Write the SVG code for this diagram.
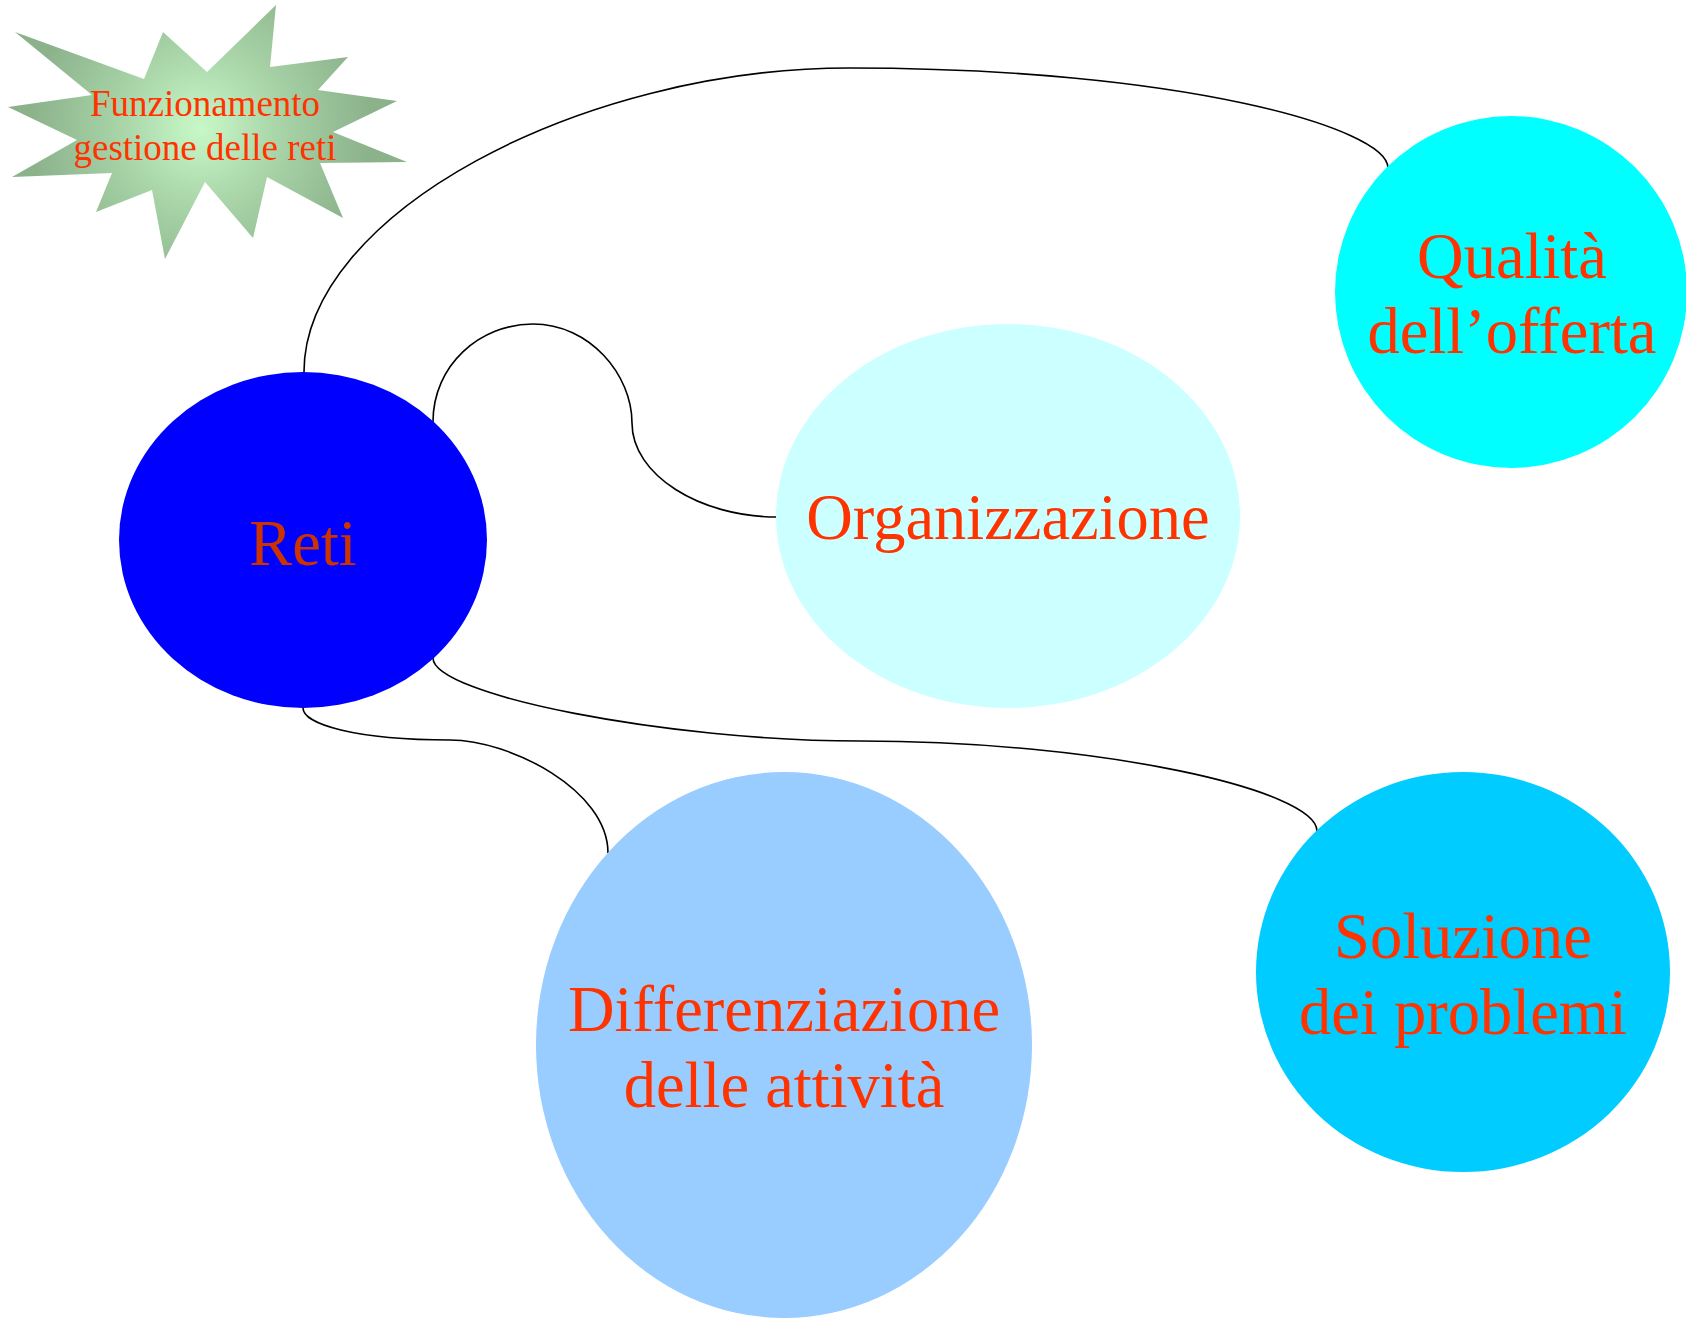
<svg xmlns="http://www.w3.org/2000/svg" width="1686" height="1318" viewBox="0 0 1686 1318">
<style>
.lbl{font-family:"Liberation Serif","Times New Roman",serif;fill:#ff3300;text-anchor:middle}
.big{font-size:64.5px}
.small{font-size:37px}
.conn{fill:none;stroke:#000;stroke-width:1.6}
</style>
<defs>
<radialGradient id="starGrad" gradientUnits="userSpaceOnUse" cx="200" cy="128" r="170">
<stop offset="0" stop-color="#c8f8c8"/>
<stop offset="0.5" stop-color="#a6d2a6"/>
<stop offset="1" stop-color="#8cb28c"/>
</radialGradient>
</defs>
<rect width="1686" height="1318" fill="#fff"/>
<g id="connectors">
<path class="conn" d="M 304 372 C 304 215, 580 68, 849 68 C 1180 68, 1388 128, 1388 168"/>
<path class="conn" d="M 433 422 C 433 365, 480 324, 533 324 C 590 324, 632 375, 632 423 C 632 475, 700 517, 777 517"/>
<path class="conn" d="M 303 708 C 303 724, 355 740, 450 740 C 510 740, 608 790, 608 853"/>
<path class="conn" d="M 433 658 C 433 695, 668 741, 860 741 C 1100 741, 1317 790, 1317 831"/>
</g>
<g id="star">
<polygon points="15,32 144,79 163,32 207,72 276,5 270,67 348,57 318,90 397,101 333,132 407,162 320,163 343,218 267,177 253,238 205,182 165,259 152,190 96,212 112,173 12,177 77,140 8,107 92,95" fill="url(#starGrad)"/>
<text class="lbl small" x="205" y="116">Funzionamento</text>
<text class="lbl small" x="205" y="160">gestione delle reti</text>
</g>
<g id="reti">
<ellipse cx="303" cy="540" rx="184" ry="168" fill="#0000ff"/>
<text class="lbl big" x="303" y="565" style="fill:#cc3300">Reti</text>
</g>
<g id="organizzazione">
<ellipse cx="1008" cy="516" rx="232" ry="192" fill="#ccffff"/>
<text class="lbl big" x="1008" y="539">Organizzazione</text>
</g>
<g id="qualita">
<ellipse cx="1511" cy="292" rx="176" ry="176" fill="#00ffff"/>
<text class="lbl big" x="1512" y="278">Qualità</text>
<text class="lbl big" x="1512" y="353">dell’offerta</text>
</g>
<g id="differenziazione">
<ellipse cx="784" cy="1045" rx="248" ry="273" fill="#99ccff"/>
<text class="lbl big" x="784" y="1031">Differenziazione</text>
<text class="lbl big" x="784" y="1107">delle attività</text>
</g>
<g id="soluzione">
<ellipse cx="1463" cy="972" rx="207" ry="200" fill="#00ccff"/>
<text class="lbl big" x="1463" y="958">Soluzione</text>
<text class="lbl big" x="1463" y="1034">dei problemi</text>
</g>
</svg>
